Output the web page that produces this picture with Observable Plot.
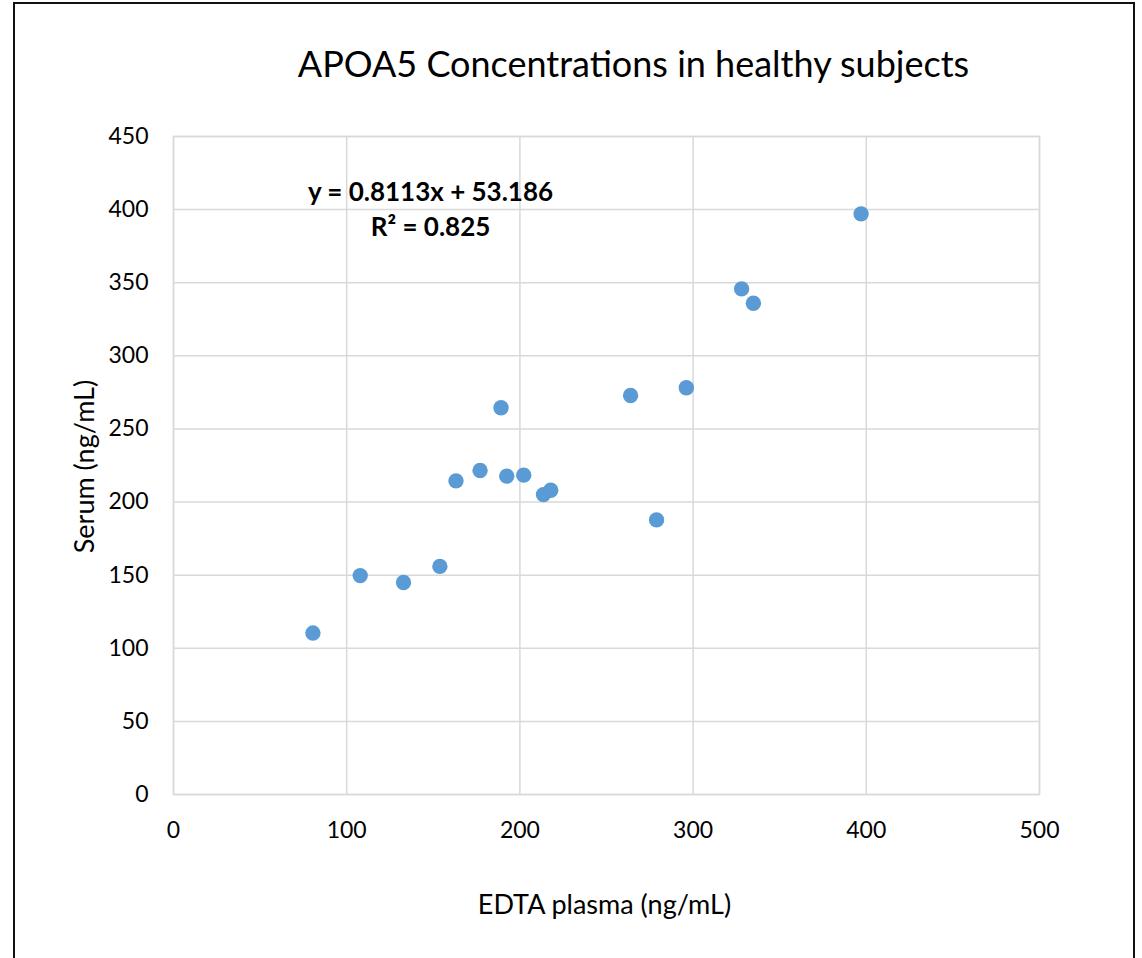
<!DOCTYPE html>
<html>
<head>
<meta charset="utf-8">
<script src="https://cdn.jsdelivr.net/npm/d3@7"></script>
<script src="https://cdn.jsdelivr.net/npm/@observablehq/plot@0.6"></script>
<style>
  html, body { margin: 0; padding: 0; background: #fff; overflow: hidden; }
  #wrap { position: relative; width: 1142px; height: 958px; overflow: hidden; }
  #border { position: absolute; left: 13px; top: 2px; width: 1122px; height: 1100px;
            box-sizing: border-box; border: 2.5px solid #111; pointer-events: none; }
  svg { display: block; }
</style>
</head>
<body>
<div id="wrap"><div id="chart"></div><div id="border"></div></div>
<script>
// Data
const plasma = [80.5, 107.8, 132.8, 153.8, 163.1, 177.0, 189.1, 192.4, 202.2, 213.6, 217.8, 263.9, 278.9, 296.1, 328.0, 334.8, 397.0];
const serum  = [110.4, 149.7, 145.0, 156.0, 214.5, 221.6, 264.5, 217.7, 218.4, 205.1, 208.1, 272.9, 187.8, 278.2, 345.8, 336.0, 397.1];
const xTicks = [0, 100, 200, 300, 400, 500];
const yTicks = [0, 50, 100, 150, 200, 250, 300, 350, 400, 450];
const titleText = "APOA5 Concentrations in healthy subjects";
const xLabel = "EDTA plasma (ng/mL)";
const yLabel = "Serum (ng/mL)";
const equationLines = ["y = 0.8113x + 53.186", "R² = 0.825"];

const points = plasma.map((x, i) => ({x, y: serum[i]}));
const gridColor = "#d9d9d9";

const chart = Plot.plot({
  width: 1142,
  height: 958,
  marginLeft: 173,
  marginRight: 103,
  marginTop: 136,
  marginBottom: 164,
  style: {fontFamily: "Lato, 'Open Sans', sans-serif", color: "#000", background: "transparent"},
  x: {domain: [0, 500]},
  y: {domain: [0, 450]},
  marks: [
    Plot.gridX(xTicks, {stroke: gridColor, strokeOpacity: 1, strokeWidth: 1.5}),
    Plot.gridY(yTicks, {stroke: gridColor, strokeOpacity: 1, strokeWidth: 1.5}),
    Plot.frame({stroke: gridColor, strokeWidth: 1.5}),
    Plot.axisX({ticks: xTicks, tickSize: 0, tickPadding: 27, fontSize: 23, label: null}),
    Plot.axisY({ticks: yTicks, tickSize: 0, tickPadding: 25, fontSize: 23, label: null}),
    Plot.dot(points, {x: "x", y: "y", r: 7.7, fill: "#5b9bd5", stroke: null}),
    Plot.text([titleText], {frameAnchor: "top", lineAnchor: "bottom", dx: 27, dy: -60, fontSize: 36, fill: "#000"}),
    Plot.text([xLabel], {frameAnchor: "bottom", lineAnchor: "bottom", dx: -2, dy: 119, fontSize: 27, fill: "#000"}),
    Plot.text([yLabel], {frameAnchor: "left", textAnchor: "middle", lineAnchor: "bottom", rotate: -90, dx: -80, dy: 1, fontSize: 27, fill: "#000"}),
    Plot.text([equationLines[0]], {frameAnchor: "top-left", textAnchor: "middle", lineAnchor: "bottom", dx: 257, dy: 64, fontSize: 26, fontWeight: "bold", fill: "#000"}),
    Plot.text([equationLines[1]], {frameAnchor: "top-left", textAnchor: "middle", lineAnchor: "bottom", dx: 257, dy: 99, fontSize: 26, fontWeight: "bold", fill: "#000"})
  ]
});
document.getElementById("chart").appendChild(chart);
</script>
</body>
</html>
